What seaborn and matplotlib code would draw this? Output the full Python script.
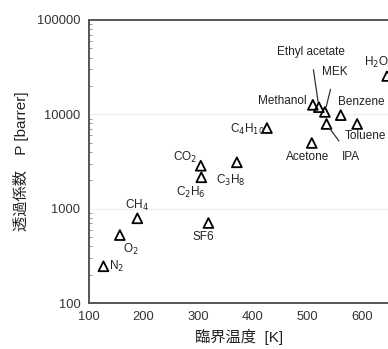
import matplotlib
matplotlib.use("Agg")
import matplotlib.pyplot as plt
import seaborn as sns
import pandas as pd

sns.set_style("white")
plt.rcParams['font.family'] = ['Liberation Sans', 'Noto Sans CJK JP']

# critical temperature [K] and permeability [barrer]
gases = ['N2', 'O2', 'CH4', 'CO2', 'C2H6', 'C3H8', 'SF6', 'C4H10',
         'Methanol', 'Ethyl acetate', 'MEK', 'Benzene', 'Toluene',
         'Acetone', 'IPA', 'H2O']
tc = [127, 157, 189, 305, 306, 371, 319, 426,
      510, 521, 532, 561, 591, 508, 535, 646]
perm = [245, 525, 790, 2850, 2150, 3100, 705, 7150,
        12600, 11900, 10600, 9800, 7900, 4970, 7900, 25500]
labels = ['N$_2$', 'O$_2$', 'CH$_4$', 'CO$_2$', 'C$_2$H$_6$', 'C$_3$H$_8$', 'SF6',
          'C$_4$H$_{10}$', 'Methanol', 'Ethyl acetate', 'MEK', 'Benzene',
          'Toluene', 'Acetone', 'IPA', 'H$_2$O']
# label offsets in pixels, and whether a leader line is drawn
offsets = [(13, 0), (11, -14), (0, 13), (-16, 8), (-11, -15), (-6, -18), (-5, -14),
           (-20, -1), (-31, 4), (-8, 55), (10, 40), (21, 13), (8, -12),
           (-4, -14), (24, -33), (-11, 14)]
leader = ['Ethyl acetate', 'MEK', 'IPA']

df = pd.DataFrame({'gas': gases, 'Tc': tc, 'P': perm})

fig = plt.figure(figsize=(3.88, 3.49), dpi=100)
ax = fig.add_axes([0.2286, 0.1318, 0.775, 0.811])

sns.scatterplot(data=df, x='Tc', y='P', marker='^', s=50, facecolor='none',
                edgecolor='black', linewidth=1.3, ax=ax, zorder=3, clip_on=False)

for g, lab, (dx, dy) in zip(gases, labels, offsets):
    row = df[df.gas == g].iloc[0]
    if g in leader:
        ax.annotate(lab, (row.Tc, row.P), xytext=(dx, dy), textcoords='offset pixels',
                    ha='center', va='center', fontsize=8.5, color='#222222',
                    arrowprops=dict(arrowstyle='-', color='#333333', lw=0.9,
                                    shrinkA=6, shrinkB=4))
    else:
        ax.annotate(lab, (row.Tc, row.P), xytext=(dx, dy), textcoords='offset pixels',
                    ha='center', va='center', fontsize=8.5, color='#222222')

ax.set_yscale('log')
ax.set_xlim(100, 650)
ax.set_ylim(100, 100000)
ax.set_xticks([100, 200, 300, 400, 500, 600])
ax.set_yticks([100, 1000, 10000, 100000])
ax.set_yticklabels(['100', '1000', '10000', '100000'])
ax.grid(axis='y', which='major', color='#eeeeee', lw=0.8)
ax.tick_params(axis='both', which='major', direction='in', length=3, width=0.8,
               color='#888888', labelsize=9.3, labelcolor='#333333', pad=6)
ax.tick_params(axis='y', which='minor', direction='in', length=2, width=0.6,
               color='#888888', left=True)
ax.tick_params(axis='x', which='minor', bottom=False)

for side in ['left', 'bottom', 'top']:
    ax.spines[side].set_color('#555555')
    ax.spines[side].set_linewidth(1.4)
ax.spines['right'].set_visible(False)

ax.set_xlabel('臨界温度  [K]', fontsize=11, color='#222222', labelpad=4)
ax.set_ylabel('透過係数　P [barrer]', fontsize=11, color='#222222', labelpad=6)

fig.savefig('out.png', dpi=100)
